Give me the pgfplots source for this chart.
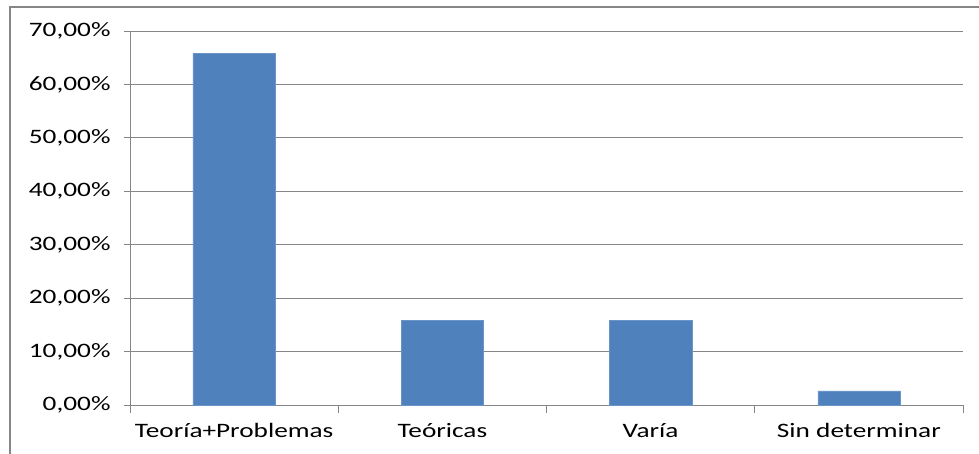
\documentclass[border=0pt]{standalone}
\usepackage{fontspec}
\setmainfont{Carlito}[FakeStretch=1.33]
\usepackage{pgfplots}
\pgfplotsset{compat=1.18}
\definecolor{barblue}{RGB}{79,129,189}
\definecolor{axgray}{RGB}{134,134,134}

\begin{document}
\begin{tikzpicture}
\useasboundingbox (0,0) rectangle (979pt,453pt);
% outer chart frame (only left and top edges are visible)
\draw[axgray, line width=2pt] (10pt,-5pt) -- (10pt,446pt) -- (990pt,446pt);
\begin{axis}[
    at={(130pt,48pt)}, anchor=south west,
    scale only axis, width=833pt, height=374pt,
    xmin=-0.5, xmax=3.5, ymin=0, ymax=70,
    axis x line*=bottom, axis y line*=left,
    axis line style={axgray, line width=1pt, -},
    xtick={0,1,2,3},
    xticklabels={Teoría+Problemas, Teóricas, Varía, Sin determinar},
    major x tick style={draw=none},
    minor xtick={-0.5,0.5,1.5,2.5,3.5},
    ytick={0,10,...,70},
    tick align=outside,
    major tick length=6pt, minor tick length=8pt,
    tick style={axgray, line width=1pt},
    ymajorgrids, grid style={axgray, line width=1pt},
    yticklabel={\pgfmathprintnumber[fixed, fixed zerofill, precision=2, use comma, assume math mode=true]{\tick}\%},
    every tick label/.append style={font=\fontsize{20.5}{24}\selectfont, text=black},
    yticklabel style={xshift=-10pt},
    xticklabel style={yshift=-9pt},
]
\addplot[ybar, bar width=0.395, fill=barblue, draw=barblue!85!white]
    coordinates {(0,65.79) (1,15.79) (2,15.79) (3,2.63)};
\end{axis}
\end{tikzpicture}
\end{document}
